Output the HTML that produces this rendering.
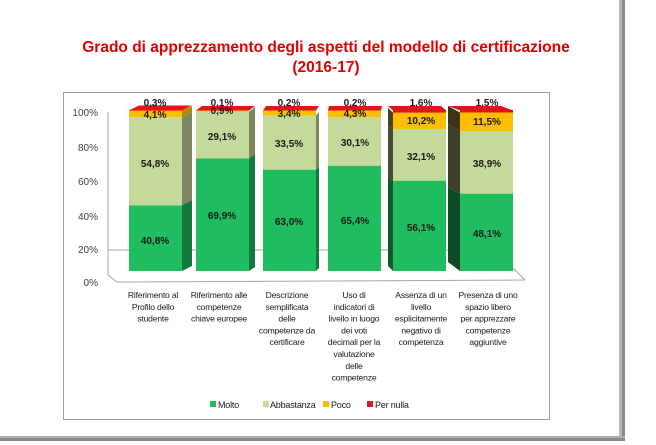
<!DOCTYPE html>
<html><head><meta charset="utf-8"><style>
html,body{margin:0;padding:0;background:#fff;}
svg{display:block;}
text{font-family:"Liberation Sans",sans-serif;}
</style></head><body>
<svg width="656" height="445" viewBox="0 0 656 445" xmlns="http://www.w3.org/2000/svg">
<rect width="656" height="445" fill="#fff"/>
<rect x="619" y="0" width="6" height="440" fill="#b8b8b8"/>
<rect x="622" y="0" width="3" height="440" fill="#8a8a8a"/>
<rect x="0" y="436" width="625" height="5" fill="#b0b0b0"/>
<rect x="0" y="438" width="625" height="3" fill="#8a8a8a"/>
<text x="326" y="52" font-size="15.5" font-weight="bold" fill="#e00000" text-anchor="middle">Grado di apprezzamento degli aspetti del modello di certificazione</text>
<text x="326" y="72" font-size="15.5" font-weight="bold" fill="#e00000" text-anchor="middle">(2016-17)</text>
<rect x="63.5" y="92.5" width="486" height="327" fill="#fff" stroke="#a0a0a0" stroke-width="1"/>
<g stroke="#a6a6a6" stroke-width="1" fill="none">
<line x1="108" y1="112" x2="108" y2="275"/>
<line x1="108" y1="275" x2="117" y2="282"/>
<line x1="117" y1="282" x2="525" y2="280"/>
<line x1="108" y1="250" x2="495" y2="250"/>
<line x1="495" y1="250" x2="525" y2="280"/>
</g>
<g font-size="10" fill="#404040" text-anchor="end">
<text x="98" y="116">100%</text>
<text x="98" y="151">80%</text>
<text x="98" y="185">60%</text>
<text x="98" y="220">40%</text>
<text x="98" y="253">20%</text>
<text x="98" y="286">0%</text>
</g>

<rect x="129" y="205.3" width="53" height="65.7" fill="#1fbd5f"/>
<rect x="129" y="117.1" width="53" height="88.2" fill="#c4da9a"/>
<rect x="129" y="110.5" width="53" height="6.6" fill="#fcbf00"/>
<rect x="129" y="110" width="53" height="0.6" fill="#e8101a"/>
<polygon points="182,271 192,266 192,200 182,205.3" fill="#127a3c"/>
<polygon points="182,205.3 192,200 192,112 182,117.1" fill="#7d8660"/>
<polygon points="182,117.1 192,112 192,106 182,110.5" fill="#b08a00"/>
<polygon points="129,110.5 182,110.5 192,105.5 139,105.5" fill="#e8101a"/>

<rect x="196" y="158.5" width="53" height="112.5" fill="#1fbd5f"/>
<rect x="196" y="111.6" width="53" height="46.9" fill="#c4da9a"/>
<rect x="196" y="110.2" width="53" height="1.4" fill="#fcbf00"/>
<polygon points="249,271 255,267 255,154 249,158.5" fill="#127a3c"/>
<polygon points="249,158.5 255,154 255,107 249,111.6" fill="#7d8660"/>
<polygon points="196,110.5 249,110.5 255,106 202,106" fill="#e8101a"/>

<rect x="263" y="169.6" width="53" height="101.4" fill="#1fbd5f"/>
<rect x="263" y="115.6" width="53" height="54" fill="#c4da9a"/>
<rect x="263" y="110.3" width="53" height="5.3" fill="#fcbf00"/>
<polygon points="316,271 319,268 319,166 316,169.6" fill="#127a3c"/>
<polygon points="316,169.6 319,166 319,112 316,115.6" fill="#7d8660"/>
<polygon points="263,110.5 316,110.5 319,106 266,106" fill="#e8101a"/>

<rect x="328" y="165.7" width="53" height="105.3" fill="#1fbd5f"/>
<rect x="328" y="117.2" width="53" height="48.5" fill="#c4da9a"/>
<rect x="328" y="110.3" width="53" height="6.9" fill="#fcbf00"/>
<polygon points="328,110.5 381,110.5 382,106 329,106" fill="#e8101a"/>

<rect x="393" y="180.7" width="53" height="90.3" fill="#1fbd5f"/>
<rect x="393" y="129" width="53" height="51.7" fill="#c4da9a"/>
<rect x="393" y="112.6" width="53" height="16.4" fill="#fcbf00"/>
<rect x="393" y="110" width="53" height="2.6" fill="#e8101a"/>
<polygon points="393,271 388,266 388,176 393,180.7" fill="#0e5a2d"/>
<polygon points="393,180.7 388,176 388,125 393,129" fill="#4a4a34"/>
<polygon points="393,129 388,125 388,108 393,112.6" fill="#4a4020"/>
<polygon points="393,110.5 446,110.5 441,106 388,106" fill="#e8101a"/>

<rect x="460" y="193.6" width="53" height="77.4" fill="#1fbd5f"/>
<rect x="460" y="131" width="53" height="62.6" fill="#c4da9a"/>
<rect x="460" y="112.5" width="53" height="18.5" fill="#fcbf00"/>
<rect x="460" y="110" width="53" height="2.5" fill="#e8101a"/>
<polygon points="460,271 448,262 448,187 460,193.6" fill="#0e4a26"/>
<polygon points="460,193.6 448,187 448,124 460,131" fill="#3e3e2c"/>
<polygon points="460,131 448,124 448,106 460,112.5" fill="#3e3418"/>
<polygon points="460,110.5 513,110.5 501,106 448,106" fill="#e8101a"/>

<g font-size="10" font-weight="bold" fill="#1a1a1a" text-anchor="middle">
<text x="155" y="244">40,8%</text><text x="155" y="167">54,8%</text><text x="155" y="118">4,1%</text><text x="155" y="106">0,3%</text>
<text x="222" y="219">69,9%</text><text x="222" y="140">29,1%</text><text x="222" y="114">0,9%</text><text x="222" y="106">0,1%</text>
<text x="289" y="225">63,0%</text><text x="289" y="147">33,5%</text><text x="289" y="117">3,4%</text><text x="289" y="106">0,2%</text>
<text x="355" y="224">65,4%</text><text x="355" y="146">30,1%</text><text x="355" y="117">4,3%</text><text x="355" y="106">0,2%</text>
<text x="421" y="231">56,1%</text><text x="421" y="160">32,1%</text><text x="421" y="124">10,2%</text><text x="421" y="106">1,6%</text>
<text x="487" y="237">48,1%</text><text x="487" y="167">38,9%</text><text x="487" y="125">11,5%</text><text x="487" y="106">1,5%</text>
</g>

<g font-size="8.6" fill="#1a1a1a" text-anchor="middle" letter-spacing="-0.2">
<text x="153" y="298">Riferimento al</text><text x="153" y="309.8">Profilo dello</text><text x="153" y="321.6">studente</text>
<text x="219" y="298">Riferimento alle</text><text x="219" y="309.8">competenze</text><text x="219" y="321.6">chiave europee</text>
<text x="287" y="298">Descrizione</text><text x="287" y="309.8">semplificata</text><text x="287" y="321.6">delle</text><text x="287" y="333.4">competenze da</text><text x="287" y="345.2">certificare</text>
<text x="354" y="298">Uso di</text><text x="354" y="309.8">indicatori di</text><text x="354" y="321.6">livello in luogo</text><text x="354" y="333.4">dei voti</text><text x="354" y="345.2">decimali per la</text><text x="354" y="357">valutazione</text><text x="354" y="368.8">delle</text><text x="354" y="380.6">competenze</text>
<text x="421" y="298">Assenza di un</text><text x="421" y="309.8">livello</text><text x="421" y="321.6">esplicitamente</text><text x="421" y="333.4">negativo di</text><text x="421" y="345.2">competenza</text>
<text x="488" y="298">Presenza di uno</text><text x="488" y="309.8">spazio libero</text><text x="488" y="321.6">per apprezzare</text><text x="488" y="333.4">competenze</text><text x="488" y="345.2">aggiuntive</text>
</g>

<g font-size="9" fill="#1a1a1a" letter-spacing="-0.2">
<rect x="210" y="401" width="6" height="6" fill="#1fbd5f"/><text x="218" y="408">Molto</text>
<rect x="263" y="401" width="6" height="6" fill="#c4da9a"/><text x="270" y="408">Abbastanza</text>
<rect x="323" y="401" width="6" height="6" fill="#fcbf00"/><text x="331" y="408">Poco</text>
<rect x="367" y="401" width="6" height="6" fill="#e8101a"/><text x="375" y="408">Per nulla</text>
</g>
</svg>
</body></html>
